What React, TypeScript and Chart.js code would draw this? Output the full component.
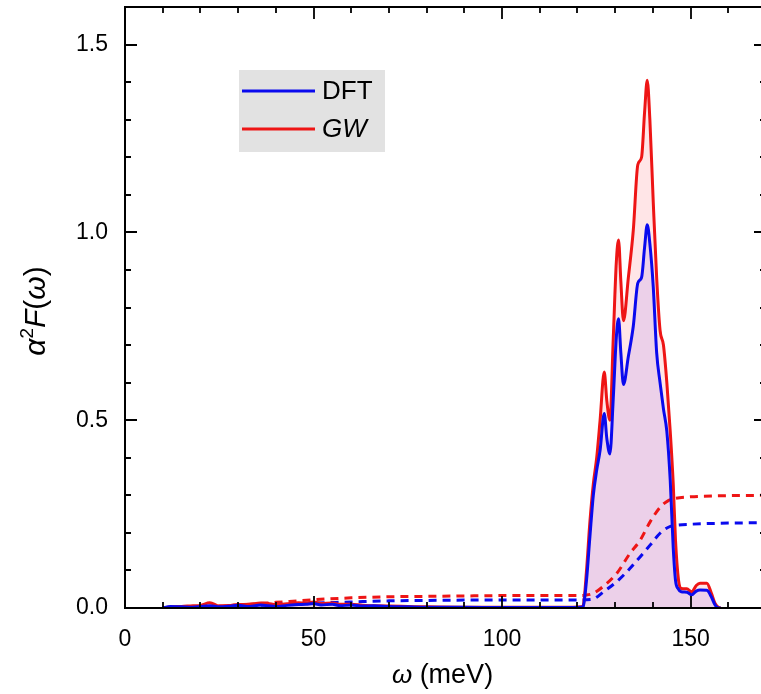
import React, { useEffect, useRef } from "react";
import { Chart, registerables } from "chart.js";

Chart.register(...registerables);

// ω grid (meV) for the spectral functions
const omega = [
  10, 12, 15, 18, 20, 22.5, 25, 28, 30, 33, 36, 38, 40, 43, 46, 48, 50, 52, 55, 57,
  60, 63, 66, 70, 75, 80, 90, 100, 110, 118, 121, 121.5, 122.4, 123.3, 124.2, 125.1,
  126.0, 127.1, 127.8, 128.6, 129.5, 130.3, 130.9, 131.5, 132.2, 133.5, 134.8, 136.0,
  137.0, 137.8, 138.5, 139.2, 140.1, 141.0, 141.9, 142.8, 143.7, 144.6, 145.4, 146.0,
  146.8, 147.5, 149.0, 150.3, 151.5, 152.5, 154.3, 155.5, 156.5, 157.5, 158,
];
// α²F(ω), DFT
const dftA2F = [
  0.0, 0.004, 0.003, 0.002, 0.004, 0.006, 0.003, 0.005, 0.007, 0.004, 0.008, 0.006, 0.004, 0.007, 0.009, 0.010, 0.012, 0.008, 0.010, 0.006,
  0.008, 0.005, 0.006, 0.004, 0.003, 0.002, 0.002, 0.001, 0.001, 0.001, 0.002, 0.004, 0.074, 0.19, 0.30, 0.367,
  0.42, 0.518, 0.45, 0.41, 0.56, 0.72, 0.77, 0.68, 0.595, 0.67, 0.75, 0.865,
  0.88, 0.96, 1.02, 0.97, 0.855, 0.68, 0.60, 0.53, 0.47, 0.34, 0.16, 0.074,
  0.05, 0.043, 0.042, 0.035, 0.045, 0.048, 0.047, 0.03, 0.008, 0.0, 0.0,
];
// α²F(ω), GW
const gwA2F = [
  0.0, 0.003, 0.004, 0.006, 0.007, 0.014, 0.005, 0.007, 0.009, 0.010, 0.013, 0.012, 0.009, 0.011, 0.014, 0.013, 0.016, 0.012, 0.013, 0.010,
  0.010, 0.007, 0.006, 0.005, 0.004, 0.003, 0.002, 0.002, 0.002, 0.002, 0.003, 0.006, 0.10, 0.23, 0.33, 0.40,
  0.50, 0.628, 0.55, 0.50, 0.72, 0.92, 0.98, 0.87, 0.765, 0.88, 1.005, 1.18,
  1.20, 1.32, 1.405, 1.30, 1.08, 0.88, 0.74, 0.70, 0.60, 0.47, 0.33, 0.18,
  0.074, 0.052, 0.051, 0.043, 0.06, 0.066, 0.066, 0.04, 0.012, 0.001, 0.0,
];
// ω grid for cumulative λ(ω) (dashed)
const omegaCum = [10, 20, 30, 40, 50, 60, 70, 80, 90, 100, 110, 120, 122, 124.2, 126.9, 130.4, 133.9, 136.6, 139.3, 141.9, 144.1, 146, 150, 160, 170];
const dftLambda = [0, 0.002, 0.005, 0.009, 0.013, 0.016, 0.019, 0.020, 0.021, 0.021, 0.021, 0.021, 0.022, 0.024, 0.043, 0.07, 0.105, 0.136, 0.168, 0.199, 0.215, 0.22, 0.223, 0.226, 0.227];
const gwLambda = [0, 0.003, 0.008, 0.015, 0.022, 0.027, 0.030, 0.031, 0.032, 0.033, 0.033, 0.033, 0.034, 0.039, 0.058, 0.092, 0.145, 0.18, 0.23, 0.268, 0.286, 0.292, 0.296, 0.299, 0.300];

const xTicks = [0, 50, 100, 150];
const yTicks = [0, 0.5, 1.0, 1.5];
const seriesLabels = ["DFT", "GW"];

const BLUE = "#0a0aee";
const RED = "#ee1515";
const FONT = "'Liberation Sans', Arial, sans-serif";

const pts = (xs: number[], ys: number[]) => xs.map((x, i) => ({ x, y: ys[i] }));

const frameTicks = {
  id: "frameTicks",
  afterDraw(chart: any) {
    const { ctx, chartArea: a, scales } = chart;
    const xs = scales.x, ys = scales.y;
    ctx.save();
    ctx.strokeStyle = "#000";
    ctx.lineWidth = 2;
    ctx.strokeRect(a.left, a.top, a.right - a.left, a.bottom - a.top);
    ctx.lineWidth = 1.8;
    ctx.beginPath();
    for (let v = 0; v <= 170; v += 10) {
      const px = Math.round(xs.getPixelForValue(v));
      const len = v % 50 === 0 ? 12 : 6;
      ctx.moveTo(px, a.bottom); ctx.lineTo(px, a.bottom - len);
      ctx.moveTo(px, a.top); ctx.lineTo(px, a.top + len);
    }
    for (let k = 0; k <= 16; k++) {
      const v = k / 10;
      const py = Math.round(ys.getPixelForValue(v));
      const len = k % 5 === 0 ? 12 : 6;
      ctx.moveTo(a.left, py); ctx.lineTo(a.left + len, py);
      ctx.moveTo(a.right, py); ctx.lineTo(a.right - len, py);
    }
    ctx.stroke();
    ctx.restore();
  },
};

function drawPieces(ctx: CanvasRenderingContext2D, pieces: { t: string; f: string; dy?: number }[], cx: number, cy: number) {
  let total = 0;
  for (const p of pieces) { ctx.font = p.f; total += ctx.measureText(p.t).width; }
  let x = cx - total / 2;
  ctx.textBaseline = "middle";
  ctx.textAlign = "left";
  for (const p of pieces) {
    ctx.font = p.f;
    ctx.fillText(p.t, x, cy + (p.dy || 0));
    x += ctx.measureText(p.t).width;
  }
}

const titlesLegend = {
  id: "titlesLegend",
  afterDraw(chart: any) {
    const { ctx, chartArea: a } = chart;
    ctx.save();
    ctx.fillStyle = "#000";
    const N = `26px ${FONT}`, I = `italic 26px ${FONT}`;
    // x title
    drawPieces(ctx, [{ t: "ω", f: I }, { t: " (meV)", f: `27px ${FONT}` }], (a.left + a.right) / 2 - 3, 676);
    // y title
    const YN = `30px ${FONT}`, YI = `italic 30px ${FONT}`;
    ctx.save();
    ctx.translate(37, 311);
    ctx.rotate(-Math.PI / 2);
    drawPieces(ctx, [
      { t: "α", f: YI },
      { t: "2", f: `19px ${FONT}`, dy: -9 },
      { t: "F", f: YI },
      { t: "(", f: YN },
      { t: "ω", f: YI },
      { t: ")", f: YN },
    ], 0, 0);
    ctx.restore();
    // legend
    const bx = a.left + 114, by = a.top + 63;
    ctx.fillStyle = "#e2e2e2";
    ctx.fillRect(bx, by, 146, 82);
    const rows = [
      { c: BLUE, t: seriesLabels[0], f: N, y: by + 21 },
      { c: RED, t: seriesLabels[1], f: I, y: by + 59 },
    ];
    for (const r of rows) {
      ctx.strokeStyle = r.c;
      ctx.lineWidth = 3;
      ctx.beginPath();
      ctx.moveTo(bx + 3, r.y); ctx.lineTo(bx + 76, r.y);
      ctx.stroke();
      ctx.fillStyle = "#000";
      ctx.font = r.f;
      ctx.textAlign = "left";
      ctx.textBaseline = "middle";
      ctx.fillText(r.t, bx + 83, r.y + 1);
    }
    ctx.restore();
  },
};

export default function App() {
  const ref = useRef<HTMLCanvasElement | null>(null);
  useEffect(() => {
    if (!ref.current) return;
    const chart = new Chart(ref.current, {
      type: "line",
      data: {
        datasets: [
          {
            label: seriesLabels[0], data: pts(omega, dftA2F), borderColor: BLUE, borderWidth: 3,
            backgroundColor: "rgba(40,0,255,0.09)", fill: "origin", pointRadius: 0, cubicInterpolationMode: "monotone",
          },
          {
            label: seriesLabels[1], data: pts(omega, gwA2F), borderColor: RED, borderWidth: 3,
            backgroundColor: "rgba(255,40,60,0.12)", fill: "origin", pointRadius: 0, cubicInterpolationMode: "monotone",
          },
          {
            label: "DFT λ", data: pts(omegaCum, dftLambda), borderColor: BLUE, borderWidth: 3, borderDash: [8, 6],
            fill: false, pointRadius: 0, cubicInterpolationMode: "monotone",
          },
          {
            label: "GW λ", data: pts(omegaCum, gwLambda), borderColor: RED, borderWidth: 3, borderDash: [8, 6],
            fill: false, pointRadius: 0, cubicInterpolationMode: "monotone",
          },
        ],
      },
      options: {
        animation: false,
        responsive: false,
        devicePixelRatio: 1,
        layout: { padding: { left: 0, top: 7, right: 10, bottom: 0 } },
        plugins: {
          legend: { display: false },
          tooltip: { enabled: false },
          filler: { drawTime: "beforeDatasetsDraw" },
        },
        scales: {
          x: {
            type: "linear", min: 0, max: 170,
            grid: { display: false },
            border: { display: false },
            ticks: { padding: 10, color: "#000", font: { family: FONT, size: 23 }, callback: (v: any) => String(v) },
            afterBuildTicks: (s: any) => { s.ticks = xTicks.map((v) => ({ value: v })); },
            afterFit: (s: any) => { s.height = 86; s.paddingLeft = 0; s.paddingRight = 0; },
          },
          y: {
            type: "linear", min: 0, max: 1.6,
            grid: { display: false },
            border: { display: false },
            ticks: { padding: 9, color: "#000", font: { family: FONT, size: 23 }, callback: (v: any) => Number(v).toFixed(1) },
            afterBuildTicks: (s: any) => { s.ticks = yTicks.map((v) => ({ value: v })); },
            afterFit: (s: any) => { s.width = 125; s.paddingTop = 0; s.paddingBottom = 0; },
          },
        },
      },
      plugins: [frameTicks, titlesLegend],
    } as any);
    return () => chart.destroy();
  }, []);
  return (
    <div style={{ position: "fixed", left: 0, top: 0, width: 761, height: 694, overflow: "hidden", background: "#fff" }}>
      <canvas ref={ref} width={776} height={694} style={{ width: 776, height: 694, display: "block" }} />
    </div>
  );
}
